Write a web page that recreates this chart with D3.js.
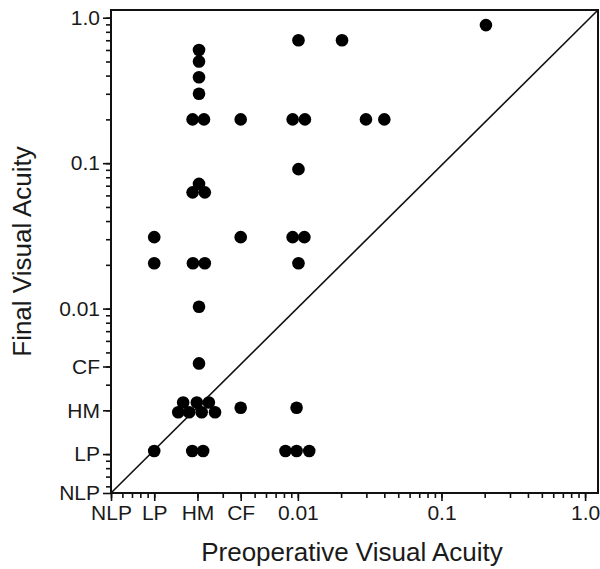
<!DOCTYPE html>
<html>
<head>
<meta charset="utf-8">
<script src="https://cdn.jsdelivr.net/npm/d3@7"></script>
<style>
  body { margin: 0; background: #fff; }
  svg text { font-family: "Liberation Sans", Arial, sans-serif; fill: #1a1a1a; }
</style>
</head>
<body>
<div class="datavis"><svg></svg></div>
<script>
width = 600
height = 569

var margin = {
    top: 10,
    rigth: 2,
    bottom: 76,
    left: 111
}

// tick labels (NLP sits at the bottom of each axis)
var tickLabels = ["NLP", "LP", "HM", "CF", "0.01", "0.1", "1.0"]
var xTickValues = [0.0005, 0.001, 0.002, 0.004, 0.01, 0.1, 1.0]
var yTickValues = [0.00054, 0.001, 0.002, 0.004, 0.01, 0.1, 1.0]

// preoperative (x) and final (y) visual acuity for each eye
var preop = [
    0.001, 0.001, 0.001,
    0.00205, 0.00205, 0.00205, 0.00205, 0.00185, 0.00222, 0.00205, 0.00185, 0.00225,
    0.00186, 0.00225, 0.00205, 0.00205,
    0.00159, 0.00198, 0.0024, 0.00147, 0.00175, 0.00214, 0.00265,
    0.00184, 0.00219,
    0.004, 0.004, 0.004,
    0.0101, 0.0092, 0.0112, 0.0101, 0.0092, 0.0111, 0.0101, 0.0098, 0.0082, 0.0098, 0.012,
    0.0203, 0.0298, 0.040, 0.204
]
var final = [
    0.031, 0.0205, 0.00105,
    0.6, 0.5, 0.39, 0.3, 0.2, 0.2, 0.072, 0.063, 0.063,
    0.0205, 0.0205, 0.0103, 0.0042,
    0.00226, 0.00226, 0.00226, 0.00194, 0.00194, 0.00194, 0.00194,
    0.00105, 0.00105,
    0.2, 0.031, 0.00208,
    0.7, 0.2, 0.2, 0.091, 0.031, 0.031, 0.0205, 0.00208, 0.00105, 0.00105, 0.00105,
    0.7, 0.2, 0.2, 0.89
]

var VIS = () => {
    x = d3.scaleLog()
        .domain([0.0005, 1.23])
        .range([margin.left, width - margin.rigth])
    y = d3.scaleLog()
        .domain([0.00054, 1.13])
        .range([height - margin.bottom, margin.top])

    var minorX = []
    var minorY = []
    ;[0.0001, 0.001, 0.01, 0.1, 1].forEach(dec => {
        for (let k = 1; k < 10; k++) {
            let v = dec * k
            if (v >= x.domain()[0] && v <= x.domain()[1]) minorX.push(v)
            if (v >= y.domain()[0] && v <= y.domain()[1]) minorY.push(v)
        }
    })

    svg = d3.select(".datavis > svg")
        .attr("width", width)
        .attr("height", height)
        .attr("viewBox", [0, 0, width, height])

    // minor ticks
    svg.append("g")
        .attr("transform", `translate(0,${height - margin.bottom})`)
        .call(d3.axisBottom(x).tickValues(minorX).tickSize(5).tickFormat(""))
        .call(g => g.select(".domain").remove())
        .selectAll("line").attr("stroke", "#111").attr("stroke-width", 1.6)
    svg.append("g")
        .attr("transform", `translate(${margin.left},0)`)
        .call(d3.axisLeft(y).tickValues(minorY).tickSize(5).tickFormat(""))
        .call(g => g.select(".domain").remove())
        .selectAll("line").attr("stroke", "#111").attr("stroke-width", 1.6)

    // labelled ticks
    xAxis = g => g
        .attr("transform", `translate(0,${height - margin.bottom})`)
        .call(d3.axisBottom(x).tickValues(xTickValues).tickSize(8).tickPadding(4)
            .tickFormat((d, i) => tickLabels[i]))
    yAxis = g => g
        .attr("transform", `translate(${margin.left},0)`)
        .call(d3.axisLeft(y).tickValues(yTickValues).tickSize(8).tickPadding(3)
            .tickFormat((d, i) => tickLabels[i]))

    svg.append("g").attr("class", "xaxis").call(xAxis)
    svg.append("g").attr("class", "yaxis").call(yAxis)
    svg.selectAll(".xaxis .domain, .yaxis .domain").remove()
    svg.selectAll(".xaxis line, .yaxis line").attr("stroke", "#111").attr("stroke-width", 1.6)
    svg.selectAll(".xaxis text, .yaxis text").attr("font-size", 21).attr("fill", "#1a1a1a")

    // frame
    svg.append("rect")
        .attr("x", x.range()[0])
        .attr("y", y.range()[1])
        .attr("width", x.range()[1] - x.range()[0])
        .attr("height", y.range()[0] - y.range()[1])
        .attr("fill", "none")
        .attr("stroke", "#111")
        .attr("stroke-width", 2)

    // diagonal corner to corner
    svg.append("line")
        .attr("x1", x(x.domain()[0])).attr("y1", y(y.domain()[0]))
        .attr("x2", x(x.domain()[1])).attr("y2", y(y.domain()[1]))
        .attr("stroke", "#111")
        .attr("stroke-width", 1.6)

    var pts = preop.map((d, i) => ({pre: d, fin: final[i]}))
    svg.append("g").attr("class", "dots")
        .selectAll("circle")
        .data(pts)
        .join("circle")
        .attr("cx", d => x(d.pre))
        .attr("cy", d => y(d.fin))
        .attr("r", 6.3)
        .attr("fill", "#000")

    svg.append("text")
        .attr("x", 352)
        .attr("y", 561)
        .attr("text-anchor", "middle")
        .attr("font-size", 26)
        .text("Preoperative Visual Acuity")

    svg.append("text")
        .attr("transform", `translate(31,${(y.range()[0] + y.range()[1]) / 2}) rotate(-90)`)
        .attr("text-anchor", "middle")
        .attr("font-size", 26)
        .text("Final Visual Acuity")
}

VIS()
</script>
</body>
</html>
